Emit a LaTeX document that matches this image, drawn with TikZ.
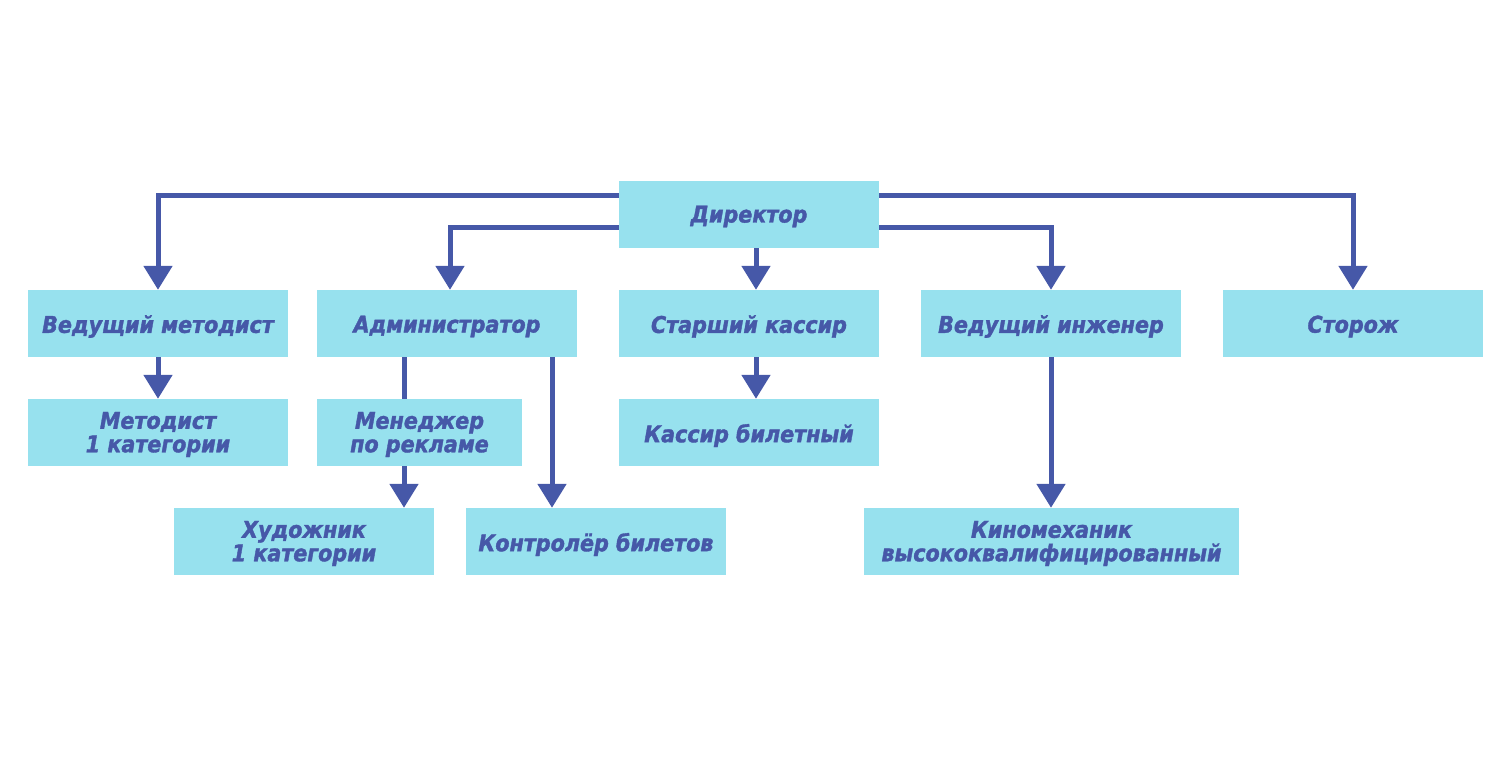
\documentclass[tikz,border=0pt]{standalone}
\usepackage{fontspec}
\setmainfont{DejaVu Sans}
\newfontfamily\boxfont{DejaVu Sans Condensed Bold Oblique}[FakeBold=1.6]
\usetikzlibrary{arrows.meta}
\definecolor{boxfill}{RGB}{151,225,238}
\definecolor{ink}{RGB}{70,88,168}
\begin{document}
\begin{tikzpicture}[x=1pt,y=-1pt,
  box/.style={fill=boxfill, draw=none, minimum height=67pt, minimum width=260pt, inner sep=0pt},
  lbl/.style={align=center, text=ink, inner sep=0pt, font=\boxfont\fontsize{23}{23.5}\selectfont},
  ln/.style={draw=ink, line width=5pt},
  arr/.style={ln, -{Triangle[width=28pt,length=24pt]}}]
\useasboundingbox (0,0) rectangle (1512,756);
\node[box] (dir) at (749,214.5) {};
\node[box] (vm) at (158,323.5) {};
\node[box] (adm) at (447,323.5) {};
\node[box] (sk) at (749,323.5) {};
\node[box] (vi) at (1051,323.5) {};
\node[box] (st) at (1353,323.5) {};
\node[box] (met) at (158,432.5) {};
\node[box, minimum width=205pt] (men) at (419.5,432.5) {};
\node[box] (kb) at (749,432.5) {};
\node[box] (hud) at (304,541.5) {};
\node[box] (kon) at (596,541.5) {};
\node[box, minimum width=375pt] (kin) at (1051.5,541.5) {};
% labels
\node[lbl] (tdir) at ([yshift=-2pt]dir.center) {Директор};
\node[lbl] (tvm) at ([yshift=-3pt]vm.center) {Ведущий методист};
\node[lbl] (tadm) at ([yshift=-3pt]adm.center) {Администратор};
\node[lbl] (tsk) at ([yshift=-3pt]sk.center) {Старший кассир};
\node[lbl] (tvi) at ([yshift=-3pt]vi.center) {Ведущий инженер};
\node[lbl] (tst) at ([yshift=-3pt]st.center) {Сторож};
\node[lbl] (tmet) at ([yshift=-2pt]met.center) {Методист\\1 категории};
\node[lbl] (tmen) at ([yshift=-2pt]men.center) {Менеджер\\по рекламе};
\node[lbl] (tkb) at ([yshift=-3pt]kb.center) {Кассир билетный};
\node[lbl] (thud) at ([yshift=-2pt]hud.center) {Художник\\1 категории};
\node[lbl] (tkon) at ([yshift=-3pt]kon.center) {Контролёр билетов};
\node[lbl] (tkin) at ([yshift=-2pt]kin.center) {Киномеханик\\высококвалифицированный};
% connectors
\draw[arr] ([yshift=-15pt]dir.north west) -| (vm.north);
\draw[arr] ([yshift=-47pt]dir.north west) -| ([xshift=3pt]adm.north);
\draw[arr] ([xshift=7pt]dir.south) -- ([xshift=7pt]sk.north);
\draw[arr] ([yshift=-47pt]dir.north east) -| (vi.north);
\draw[arr] ([yshift=-15pt]dir.north east) -| (st.north);
\draw[arr] (vm.south) -- (met.north);
\draw[ln] ([xshift=-43pt]adm.south) coordinate (a1) -- (a1 |- men.north);
\draw[arr] (a1 |- men.south) -- (a1 |- hud.north);
\draw[arr] ([xshift=105pt]adm.south) coordinate (a2) -- (a2 |- kon.north);
\draw[arr] ([xshift=7pt]sk.south) -- ([xshift=7pt]kb.north);
\draw[arr] (vi.south) -- (vi.south |- kin.north);
\end{tikzpicture}
\end{document}
